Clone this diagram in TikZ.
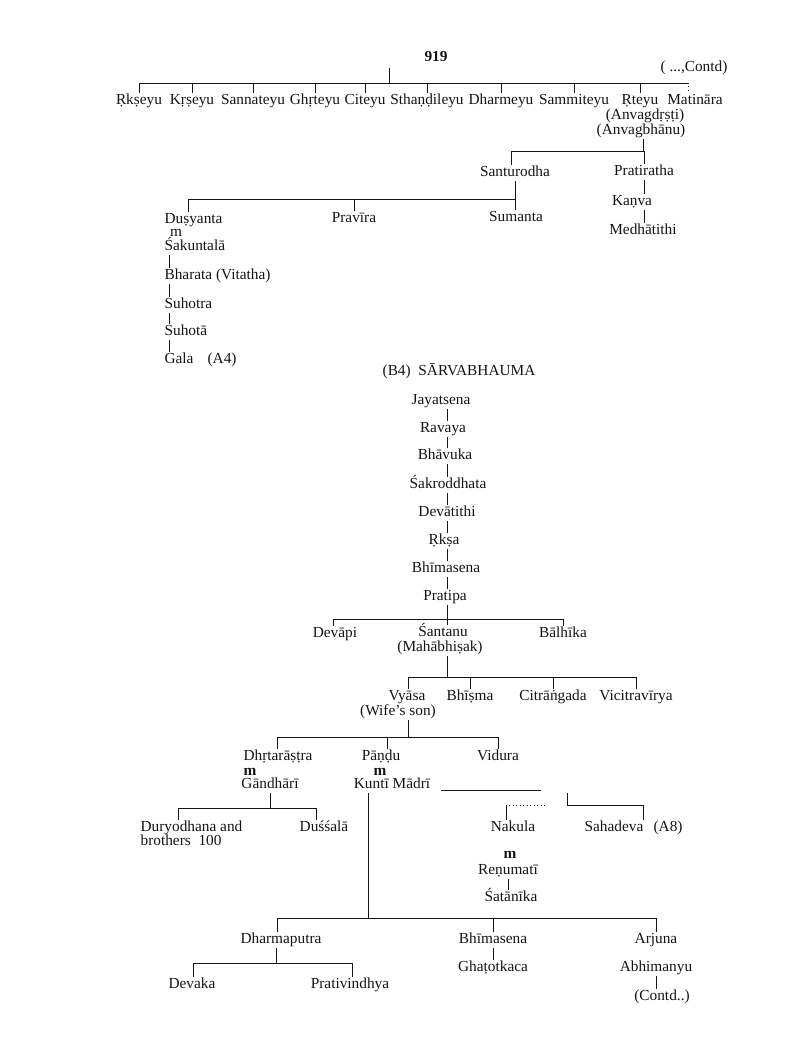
\documentclass[tikz,border=0pt]{standalone}
\usepackage{fontspec}
\setmainfont{Liberation Serif}
\usetikzlibrary{calc}
\definecolor{InkClr}{rgb}{0.08,0.08,0.08}
\tikzset{nm/.style={inner sep=1pt,text height=7.5pt,text depth=2.5pt,font=\fontsize{11.5}{13}\selectfont,text=InkClr},
  lnm/.style={nm,anchor=west},
  mk/.style={nm,text height=4.5pt,text depth=0pt},
  ln/.style={line width=0.6pt,draw=InkClr}}

\begin{document}
\begin{tikzpicture}[x=0.75pt,y=-0.75pt]
\useasboundingbox (0,0) rectangle (806,1055);

\node[nm] (pg) at (436,58) {\textbf{919}};
\node[nm] (contd) at (694,68) {( ...,Contd)};
\coordinate (top) at (389,68);
\coordinate (b0) at (140,83);
\coordinate (b0e) at (688,83);

\node[nm] (rkseyu) at (139,101) {Ṛkṣeyu};
\node[nm] (krseyu) at (192,101) {Kṛṣeyu};
\node[nm] (sannateyu) at (253,101) {Sannateyu};
\node[nm] (ghrteyu) at (315,101) {Ghṛteyu};
\node[nm] (citeyu) at (365,101) {Citeyu};
\node[nm] (sthandileyu) at (427,101) {Sthaṇḍileyu};
\node[nm] (dharmeyu) at (501,101) {Dharmeyu};
\node[nm] (sammiteyu) at (574,101) {Sammiteyu};
\node[nm] (rteyu) at (640,101) {Ṛteyu};
\node[nm] (matinara) at (695,101) {Matināra};
\node[nm] (anvag1) at (645,116) {(Anvagdṛṣṭi)};
\node[nm] (anvag2) at (641,131) {(Anvagbhānu)};

\draw[ln] (b0) -- (b0e);
\draw[ln] (top) -- (top |- b0);
\draw[ln] (rkseyu.north) -- (rkseyu.north |- b0);
\draw[ln] (krseyu.north) -- (krseyu.north |- b0);
\draw[ln] (sannateyu.north) -- (sannateyu.north |- b0);
\draw[ln] (ghrteyu.north) -- (ghrteyu.north |- b0);
\draw[ln] (citeyu.north) -- (citeyu.north |- b0);
\draw[ln] (sthandileyu.north) -- (sthandileyu.north |- b0);
\draw[ln] (dharmeyu.north) -- (dharmeyu.north |- b0);
\draw[ln] (sammiteyu.north) -- (sammiteyu.north |- b0);
\draw[ln] (rteyu.north) -- (rteyu.north |- b0);
\draw[ln,dotted] (b0e) -- (b0e |- matinara.north);

\node[nm] (santuro) at (515,173) {Santurodha};
\node[nm] (pratiratha) at (644,172) {Pratiratha};
\node[nm] (kanva) at (632,202) {Kaṇva};
\node[nm] (medha) at (643,231) {Medhātithi};
\coordinate (b1) at (511,151);
\draw[ln] ([xshift=1.5pt]anvag2.south) |- (b1) -- (santuro.north -| b1);
\draw[ln] (pratiratha.north) -- (pratiratha.north |- b1);
\draw[ln] (pratiratha.south) -- (pratiratha.south |- kanva.north);
\draw[ln] (pratiratha.south |- kanva.south) -- (pratiratha.south |- medha.north);

\node[nm] (pravira) at (354,219) {Pravīra};
\node[nm] (sumanta) at (516,218) {Sumanta};
\node[lnm] (dusyanta) at (163,220) {Duṣyanta};
\node[mk] (m1) at (176,234) {m};
\node[lnm] (sakuntala) at (163,247) {Śakuntalā};
\node[lnm] (bharata) at (163,276) {Bharata (Vitatha)};
\node[lnm] (suhotra) at (163,305) {Suhotra};
\node[lnm] (suhota) at (163,332) {Suhotā};
\node[lnm] (gala) at (163,360) {Gala};
\node[lnm] (a4) at (206,360) {(A4)};
\coordinate (b2) at (188,199);
\coordinate (c1) at (169,258);
\draw[ln] (santuro.south) -- (santuro.south |- sumanta.north);
\draw[ln] (santuro.south |- b2) -- (b2) -- (b2 |- dusyanta.north);
\draw[ln] (pravira.north) -- (pravira.north |- b2);
\draw[ln] (sakuntala.south -| c1) -- (bharata.north -| c1);
\draw[ln] (bharata.south -| c1) -- (suhotra.north -| c1);
\draw[ln] (suhotra.south -| c1) -- (suhota.north -| c1);
\draw[ln] (suhota.south -| c1) -- (gala.north -| c1);

\node[nm] (title) at (459,372) {(B4)\ \ SĀRVABHAUMA};
\node[nm] (jayatsena) at (441,401) {Jayatsena};
\node[nm] (ravaya) at (443,429) {Ravaya};
\node[nm] (bhavuka) at (445,456) {Bhāvuka};
\node[nm] (sakro) at (448,485) {Śakroddhata};
\node[nm] (devatithi) at (447,513) {Devātithi};
\node[nm] (rksa) at (444,541) {Ṛkṣa};
\node[nm] (bhima1) at (446,569) {Bhīmasena};
\node[nm] (pratipa) at (445,597) {Pratipa};
\coordinate (chain) at (447,0);
\draw[ln] (jayatsena.south -| chain) -- (ravaya.north -| chain);
\draw[ln] (ravaya.south -| chain) -- (bhavuka.north -| chain);
\draw[ln] (bhavuka.south -| chain) -- (sakro.north -| chain);
\draw[ln] (sakro.south -| chain) -- (devatithi.north -| chain);
\draw[ln] (devatithi.south -| chain) -- (rksa.north -| chain);
\draw[ln] (rksa.south -| chain) -- (bhima1.north -| chain);
\draw[ln] (bhima1.south -| chain) -- (pratipa.north -| chain);

\node[nm] (devapi) at (335,634) {Devāpi};
\node[nm] (santanu) at (443,633) {Śantanu};
\node[nm] (balhika) at (563,634) {Bālhīka};
\node[nm] (mahabh) at (440,648) {(Mahābhiṣak)};
\coordinate (b3) at (333,619);
\draw[ln] (pratipa.south -| chain) -- (chain |- b3);
\draw[ln] (devapi.north -| b3) -- (b3) -- (b3 -| balhika.north) -- (balhika.north);
\draw[ln] (chain |- b3) -- (chain |- santanu.north);

\node[nm] (vyasa) at (407,697) {Vyāsa};
\node[nm] (bhisma) at (470,697) {Bhīṣma};
\node[nm] (citra) at (553,697) {Citrāṅgada};
\node[nm] (vicitra) at (636,697) {Vicitravīrya};
\node[nm] (wife) at (398,712) {(Wife’s son)};
\coordinate (b4) at (408,677);
\draw[ln] (mahabh.south -| chain) -- (chain |- b4);
\draw[ln] (b4 |- vyasa.north) -- (b4) -- (b4 -| vicitra.north) -- (vicitra.north);
\draw[ln] (bhisma.north) -- (bhisma.north |- b4);
\draw[ln] (citra.north) -- (citra.north |- b4);

\node[nm] (dhrta) at (278,757) {Dhṛtarāṣṭra};
\node[nm] (pandu) at (381,757) {Pāṇḍu};
\node[nm] (vidura) at (498,757) {Vidura};
\node[mk] (m2) at (250,772) {\textbf{m}};
\node[nm] (gandhari) at (270,785) {Gāndhārī};
\node[mk] (m3) at (380,772) {\textbf{m}};
\node[nm] (kunti) at (392,785) {Kuntī Mādrī};
\coordinate (b5) at (277,737);
\draw[ln] (wife.south -| b4) -- (b4 |- b5);
\draw[ln] (b5 |- dhrta.north) -- (b5) -- (b5 -| vidura.north) -- (vidura.north);
\draw[ln] ([xshift=4.5pt]pandu.north) -- ([xshift=4.5pt]pandu.north |- b5);

\node[lnm] (duryo) at (139,828) {Duryodhana and};
\node[lnm] (bros) at (139,842) {brothers\ \ 100};
\node[nm] (dussala) at (324,828) {Duśśalā};
\coordinate (b6) at (178,808);
\coordinate (b6e) at (316,808);
\draw[ln] (gandhari.south) -- (gandhari.south |- b6);
\draw[ln] (b6 |- duryo.north) -- (b6) -- (b6e) -- (b6e |- dussala.north);

\node[nm] (nakula) at (513,828) {Nakula};
\node[nm] (sahadeva) at (614,828) {Sahadeva};
\node[lnm] (a8) at (652,828) {(A8)};
\node[mk] (m5) at (510,855) {\textbf{m}};
\node[nm] (renumati) at (508,871) {Reṇumatī};
\node[nm] (satanika) at (511,898) {Śatānīka};
\coordinate (md) at (441,790);
\coordinate (b7) at (506,805);
\coordinate (b7s) at (567,793);
\coordinate (sh) at (643,805);
\draw[ln] (md) -- ++(100,0);
\draw[ln,dotted] (b7) -- ++(40,0);
\draw[ln] (nakula.north -| b7) -- (b7);
\draw[ln] (b7s) |- (sh) -- (sh |- sahadeva.north);
\draw[ln] (renumati.south) -- (renumati.south |- satanika.north);

\node[nm] (dharma) at (281,940) {Dharmaputra};
\node[nm] (bhima2) at (493,940) {Bhīmasena};
\node[nm] (arjuna) at (656,940) {Arjuna};
\node[nm] (ghatot) at (493,968) {Ghaṭotkaca};
\node[nm] (abhim) at (656,968) {Abhimanyu};
\node[nm] (contd2) at (662,997) {(Contd..)};
\coordinate (b8) at (277,918);
\draw[ln] ([xshift=-18pt]kunti.south) -- ([xshift=-18pt]kunti.south |- b8);
\draw[ln] (b8 |- dharma.north) -- (b8) -- (b8 -| arjuna.north) -- (arjuna.north);
\draw[ln] (bhima2.north) -- (bhima2.north |- b8);
\draw[ln] (bhima2.south) -- (ghatot.north);
\draw[ln] (abhim.south) -- (abhim.south |- contd2.north);

\node[nm] (devaka) at (192,985) {Devaka};
\node[nm] (prati) at (350,985) {Prativindhya};
\coordinate (b9) at (193,963);
\coordinate (b9e) at (352,963);
\draw[ln] ([xshift=-3.5pt]dharma.south) -- ([xshift=-3.5pt]dharma.south |- b9);
\draw[ln] (b9 |- devaka.north) -- (b9) -- (b9e) -- (b9e |- prati.north);

\end{tikzpicture}
\end{document}
